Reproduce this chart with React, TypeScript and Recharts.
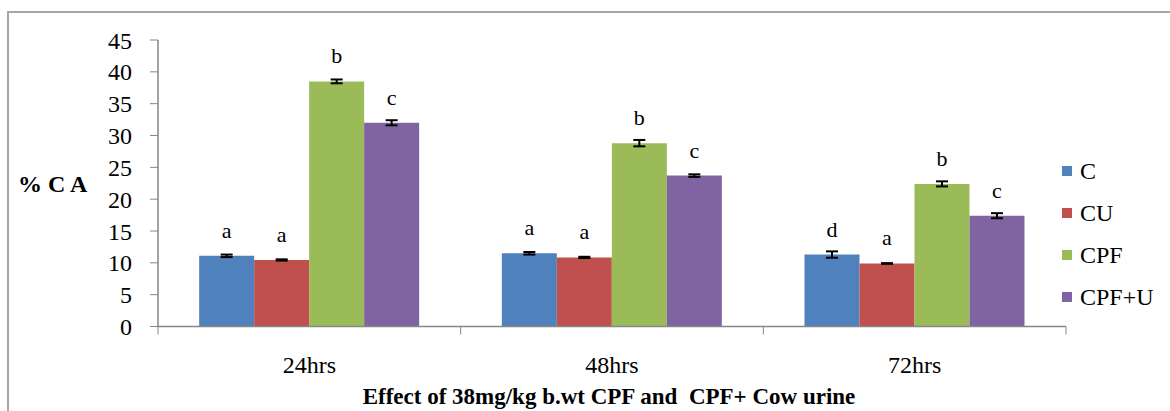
import React from 'react';
import { BarChart, Bar, XAxis, YAxis, ErrorBar, LabelList, Legend } from 'recharts';

const categories = ['24hrs', '48hrs', '72hrs'];
const seriesNames = ['C', 'CU', 'CPF', 'CPF+U'];
const seriesColors = ['#4F81BD', '#C0504D', '#9BBB59', '#8064A2'];

const valuesC = [11.1, 11.5, 11.3];
const valuesCU = [10.45, 10.85, 9.9];
const valuesCPF = [38.5, 28.8, 22.4];
const valuesCPFU = [32.0, 23.7, 17.4];

const errC = [0.2, 0.2, 0.5];
const errCU = [0.1, 0.1, 0.05];
const errCPF = [0.3, 0.5, 0.4];
const errCPFU = [0.4, 0.2, 0.4];

const lettersC = ['a', 'a', 'd'];
const lettersCU = ['a', 'a', 'a'];
const lettersCPF = ['b', 'b', 'b'];
const lettersCPFU = ['c', 'c', 'c'];

const yTicks = [0, 5, 10, 15, 20, 25, 30, 35, 40, 45];
const yLabel = '% C A';
const xTitle = 'Effect of 38mg/kg b.wt CPF and\u00a0 CPF+ Cow urine';

const data = categories.map((cat, i) => ({
  cat,
  C: valuesC[i],
  CU: valuesCU[i],
  CPF: valuesCPF[i],
  CPFU: valuesCPFU[i],
  eC: errC[i],
  eCU: errCU[i],
  eCPF: errCPF[i],
  eCPFU: errCPFU[i],
  lC: lettersC[i],
  lCU: lettersCU[i],
  lCPF: lettersCPF[i],
  lCPFU: lettersCPFU[i],
}));

const keys = [
  { v: 'C', e: 'eC', l: 'lC' },
  { v: 'CU', e: 'eCU', l: 'lCU' },
  { v: 'CPF', e: 'eCPF', l: 'lCPF' },
  { v: 'CPFU', e: 'eCPFU', l: 'lCPFU' },
];

const FONT = '"Liberation Serif", "Times New Roman", serif';
const AXIS = '#868686';
const W = 1170;
const H = 411;
const PLOT_LEFT = 158;
const PLOT_RIGHT = 1066;
const CAT_W = (PLOT_RIGHT - PLOT_LEFT) / categories.length;
const TICK = 8;
const LEG_ROW = 42;

function CatTick(props: any) {
  const { x, y, payload, index } = props;
  const axisY = y - TICK;
  const half = CAT_W / 2;
  return (
    <g>
      <line x1={x - half} y1={axisY} x2={x - half} y2={axisY + TICK} stroke={AXIS} strokeWidth={1} />
      {index === categories.length - 1 && (
        <line x1={x + half} y1={axisY} x2={x + half} y2={axisY + TICK} stroke={AXIS} strokeWidth={1} />
      )}
      <text x={x} y={y} dy={38} textAnchor="middle" fontSize={24} fontFamily={FONT} fill="#000">
        {payload.value}
      </text>
    </g>
  );
}

function LegendContent() {
  return (
    <svg width={105} height={LEG_ROW * seriesNames.length} style={{ display: 'block', overflow: 'visible' }}>
      {seriesNames.map((n, i) => {
        const cy = LEG_ROW / 2 + i * LEG_ROW;
        return (
          <g key={n}>
            <rect x={0} y={cy - 5} width={10} height={10} fill={seriesColors[i]} />
            <text x={18} y={cy + 8} fontSize={24} fontFamily={FONT} fill="#000">
              {n}
            </text>
          </g>
        );
      })}
    </svg>
  );
}

export default function App() {
  return (
    <div style={{ position: 'absolute', left: 0, top: 0, width: W, height: H, overflow: 'hidden', background: '#fff' }}>
      <div
        style={{
          position: 'absolute',
          left: 7,
          top: 11,
          width: 1200,
          height: 440,
          border: '2px solid #a6a6a6',
          boxSizing: 'border-box',
        }}
      />
      <div style={{ position: 'absolute', left: 0, top: 0 }}>
        <BarChart
          width={W}
          height={H}
          data={data}
          margin={{ top: 40, right: W - PLOT_RIGHT, bottom: 0, left: 0 }}
          barCategoryGap="13.6%"
          barGap={0}
        >
          <XAxis
            dataKey="cat"
            height={84.5}
            axisLine={{ stroke: AXIS, strokeWidth: 1.5 }}
            tickLine={false}
            tickSize={TICK}
            tickMargin={0}
            tick={<CatTick />}
            interval={0}
            label={{
              value: xTitle,
              position: 'insideBottom',
              offset: 7,
              dx: -3,
              style: { fontFamily: FONT, fontSize: 23, fontWeight: 'bold', fill: '#000' },
            }}
          />
          <YAxis
            width={PLOT_LEFT}
            domain={[0, 45]}
            ticks={yTicks}
            interval={0}
            axisLine={{ stroke: AXIS, strokeWidth: 1.5 }}
            tickLine={{ stroke: AXIS }}
            tickSize={TICK}
            tickMargin={18}
            tick={{ fontFamily: FONT, fontSize: 24, fill: '#000' }}
            label={{
              value: yLabel,
              position: 'insideLeft',
              offset: 18,
              style: { fontFamily: FONT, fontSize: 24, fontWeight: 'bold', fill: '#000' },
            }}
          />
          <Legend
            layout="vertical"
            align="center"
            verticalAlign="middle"
            content={<LegendContent />}
            wrapperStyle={{ left: 1062, top: 150, width: 105 }}
          />
          {keys.map((k, i) => (
            <Bar key={k.v} dataKey={k.v} name={seriesNames[i]} fill={seriesColors[i]} isAnimationActive={false}>
              <ErrorBar dataKey={k.e} width={6} stroke="#000" strokeWidth={2} />
              <LabelList dataKey={k.l} position="top" offset={18} fontSize={22} fontFamily={FONT} fill="#000" />
            </Bar>
          ))}
        </BarChart>
      </div>
    </div>
  );
}
